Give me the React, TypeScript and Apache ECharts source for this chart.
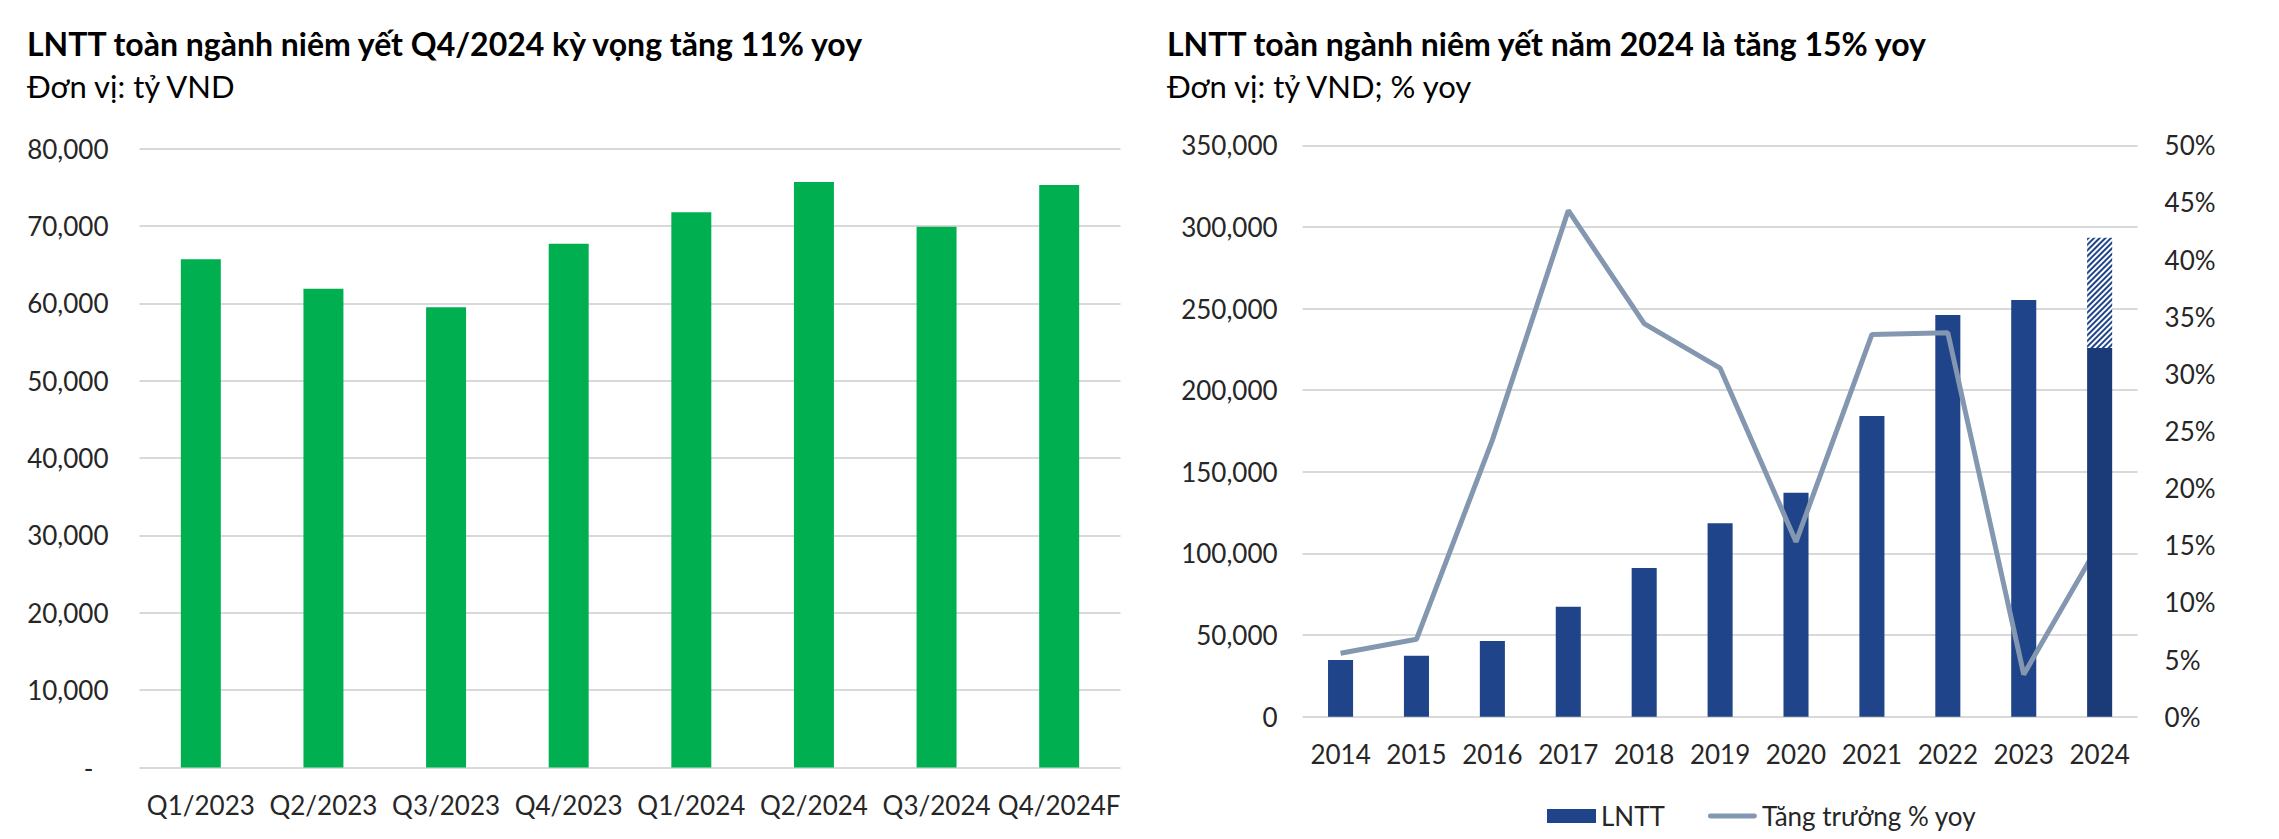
import React, { useEffect, useRef } from "react";
import * as echarts from "echarts";

// ---- Data ----
const quarterCategories = ["Q1/2023", "Q2/2023", "Q3/2023", "Q4/2023", "Q1/2024", "Q2/2024", "Q3/2024", "Q4/2024F"];
const quarterProfit = [65700, 61900, 59500, 67700, 71800, 75700, 69900, 75300];

const yearCategories = ["2014", "2015", "2016", "2017", "2018", "2019", "2020", "2021", "2022", "2023", "2024"];
const yearProfit = [34800, 37300, 46400, 67300, 91100, 118500, 137100, 184200, 246100, 255300];
const profit2024Parts = [225900, 67400]; // [actual part, forecast part (hatched)]
const growthYoy = [0.0555, 0.0677, 0.242, 0.443, 0.344, 0.305, 0.153, 0.3345, 0.336, 0.037, 0.152];

const leftTicks = { min: 0, max: 80000, interval: 10000 };
const rightTicks = { min: 0, max: 350000, interval: 50000 };
const pctTicks = { min: 0, max: 0.5, interval: 0.05 };

const FONT = "Lato";
const TEXT = "#262626";
const GRID = "#D9D9D9";
const GREEN = "#00B050";
const BLUE = "#1F4489";
const BLUE_DARK = "#1A3A78";
const GREY = "#8497B0";

const fmtNum = (v: number) => v.toLocaleString("en-US");

export default function App() {
  const ref = useRef<HTMLDivElement>(null);
  useEffect(() => {
    if (!ref.current) return;
    const chart = echarts.init(ref.current, null, { renderer: "svg" });
    const axisLabel = { fontFamily: FONT, fontSize: 26, color: TEXT };
    const idx2024 = yearCategories.indexOf("2024");
    const seriesA = yearCategories.map((_, i) => (i < yearProfit.length ? yearProfit[i] : "-"));
    const seriesB = yearCategories.map((_, i) => (i === idx2024 ? profit2024Parts[0] : "-"));
    const seriesC = yearCategories.map((_, i) => (i === idx2024 ? profit2024Parts[1] : "-"));

    const option: any = {
      animation: false,
      backgroundColor: "#ffffff",
      textStyle: { fontFamily: FONT },
      graphic: [
        { type: "text", left: 27, top: 27, style: { text: "LNTT toàn ngành niêm yết Q4/2024 kỳ vọng tăng 11% yoy", font: `bold 32px ${FONT}`, fill: "#000" } },
        { type: "text", left: 27, top: 70, style: { text: "Đơn vị: tỷ VND", font: `31px ${FONT}`, fill: "#000" } },
        { type: "text", left: 1167, top: 27, style: { text: "LNTT toàn ngành niêm yết năm 2024 là tăng 15% yoy", font: `bold 32px ${FONT}`, fill: "#000" } },
        { type: "text", left: 1167, top: 70, style: { text: "Đơn vị: tỷ VND; % yoy", font: `31px ${FONT}`, fill: "#000" } },
      ],
      grid: [
        { left: 139.5, top: 148.7, width: 981, height: 618.8, containLabel: false },
        { left: 1302.6, top: 145.3, width: 835, height: 571.4, containLabel: false },
      ],
      legend: {
        left: 1542,
        top: 798,
        itemWidth: 49,
        itemHeight: 14,
        itemGap: 43,
        textStyle: { fontFamily: FONT, fontSize: 26, color: TEXT },
        data: [
          { name: "LNTT", icon: "rect", itemStyle: { color: BLUE } },
          { name: "Tăng trưởng % yoy", icon: "path://M2.5,0H48.5A2.5,2.5,0,0,1,48.5,5H2.5A2.5,2.5,0,0,1,2.5,0Z", itemStyle: { color: GREY } },
        ],
      },
      xAxis: [
        {
          type: "category", gridIndex: 0, data: quarterCategories,
          axisLine: { show: false }, axisTick: { show: false },
          axisLabel: { ...axisLabel, margin: 24, interval: 0 },
        },
        {
          type: "category", gridIndex: 1, data: yearCategories,
          axisLine: { show: false }, axisTick: { show: false },
          axisLabel: { ...axisLabel, margin: 24, interval: 0 },
        },
      ],
      yAxis: [
        {
          type: "value", gridIndex: 0, ...leftTicks,
          axisLine: { show: false }, axisTick: { show: false },
          splitLine: { lineStyle: { color: GRID, width: 2 } },
          axisLabel: {
            ...axisLabel, margin: 31,
            formatter: (v: number) => (v === 0 ? "{d|-}" : fmtNum(v)),
            rich: { d: { fontFamily: FONT, fontSize: 26, color: TEXT, padding: [0, 15, 0, 0] } },
          },
        },
        {
          type: "value", gridIndex: 1, ...rightTicks,
          axisLine: { show: false }, axisTick: { show: false },
          splitLine: { lineStyle: { color: GRID, width: 2 } },
          axisLabel: { ...axisLabel, margin: 25, formatter: (v: number) => fmtNum(v) },
        },
        {
          type: "value", gridIndex: 1, position: "right", ...pctTicks,
          axisLine: { show: false }, axisTick: { show: false },
          splitLine: { show: false },
          axisLabel: { ...axisLabel, margin: 27, formatter: (v: number) => `${Math.round(v * 100)}%` },
        },
      ],
      series: [
        {
          name: "LNTT quý", type: "bar", xAxisIndex: 0, yAxisIndex: 0,
          data: quarterProfit, barWidth: "32.6%", itemStyle: { color: GREEN },
        },
        {
          name: "LNTT", type: "bar", xAxisIndex: 1, yAxisIndex: 1, stack: "y",
          data: seriesA, barWidth: "33%", itemStyle: { color: BLUE }, z: 2,
        },
        {
          name: "Tăng trưởng % yoy", type: "line", xAxisIndex: 1, yAxisIndex: 2,
          data: growthYoy, symbol: "none", showSymbol: false, smooth: false,
          lineStyle: { color: GREY, width: 5 }, itemStyle: { color: GREY }, z: 3,
        },
        {
          name: "LNTT 2024", type: "bar", xAxisIndex: 1, yAxisIndex: 1, stack: "y",
          data: seriesB, barWidth: "33%", itemStyle: { color: BLUE_DARK }, z: 4,
        },
        {
          name: "LNTT 2024F", type: "bar", xAxisIndex: 1, yAxisIndex: 1, stack: "y",
          data: seriesC, barWidth: "33%", z: 4,
          itemStyle: {
            color: "#ffffff",
            decal: {
              symbol: "rect", symbolSize: 1, color: BLUE, backgroundColor: "#ffffff",
              dashArrayX: [1, 0], dashArrayY: [1.3, 1.5], rotation: -Math.PI / 4,
            },
          },
        },
      ],
    };
    chart.setOption(option);
    return () => chart.dispose();
  }, []);
  return <div ref={ref} style={{ position: "absolute", left: 0, top: 0, width: 2279, height: 839 }} />;
}
